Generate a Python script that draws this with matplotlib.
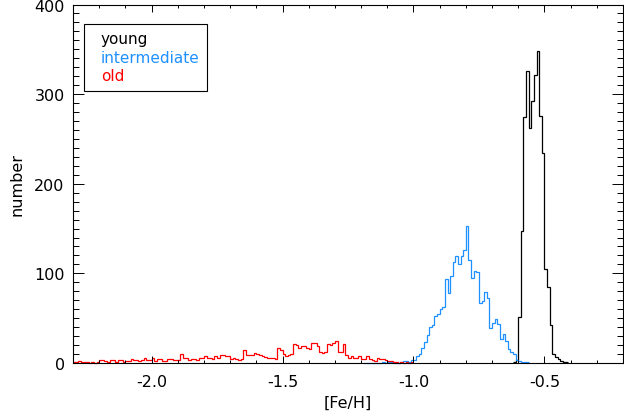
import numpy as np
import matplotlib
matplotlib.use('Agg')
import matplotlib.pyplot as plt
from matplotlib.ticker import MultipleLocator, FormatStrFormatter
from matplotlib.lines import Line2D

plt.rcParams['font.family'] = 'DejaVu Sans'
plt.rcParams['font.size'] = 11.5

bin_width = 0.01

# young population, bins start at [Fe/H] = -0.62
young_start = -0.62
young_counts = [1, 3, 51, 147, 275, 326, 262, 292, 321, 348, 276, 234,
                105, 85, 42, 10, 7, 4, 2, 1, 1]

# intermediate population, bins start at -1.19
inter_start = -1.19
inter_counts = [0, 0, 0, 0, 0, 0, 0, 1, 0, 1, 1, 0, 0, 0, 1, 2, 2, 1, 3,   # -1.19 .. -1.01
                3, 8, 10, 17, 23, 31, 40, 42, 52, 55, 60, 62,               # -1.00 .. -0.89
                94, 78, 97, 113, 119, 110, 119, 126, 153,                   # -0.88 .. -0.80
                115, 95, 103, 102, 67, 69, 79, 73, 39, 45, 49, 43,          # -0.79 .. -0.68
                27, 32, 25, 16, 12, 10, 3, 2, 1, 1, 1]                      # -0.67 .. -0.57

# old population, bins start at -2.30
old_start = -2.30
old_counts = [1, 1, 2, 1, 1, 1, 0, 1, 0, 1,
              3, 3, 2, 1, 3, 3, 1, 3, 3, 1,
              2, 2, 4, 3, 3, 2, 3, 6, 3, 3,
              6, 2, 4, 5, 2, 2, 5, 4, 3, 3,
              3, 10, 6, 6, 3, 4, 5, 3, 6, 6,
              8, 6, 6, 5, 8, 6, 9, 9, 8, 8,
              5, 6, 4, 3, 5, 14, 9, 9, 9, 11,
              10, 9, 8, 7, 6, 6, 6, 5, 17, 15,
              10, 8, 9, 10, 21, 20, 17, 19, 19, 17,
              16, 22, 22, 19, 12, 11, 12, 21, 20, 22,
              25, 12, 12, 21, 9, 6, 8, 6, 6, 8,
              5, 4, 8, 4, 3, 2, 6, 5, 5, 3,
              2, 2, 1, 1, 0, 1, 0, 1, 0, 1]

labels = ['young', 'intermediate', 'old']
colors = ['black', '#1e90ff', '#ff0000']


def edges(start, counts):
    return start + bin_width * np.arange(len(counts) + 1)


fig = plt.figure(figsize=(6.24, 4.14), dpi=100)
ax = fig.add_axes([73 / 624, 1 - 364 / 414, 550 / 624, 358.5 / 414])

series = [(young_start, young_counts), (inter_start, inter_counts), (old_start, old_counts)]
for (start, counts), c in zip(series, colors):
    ax.stairs(counts, edges(start, counts), baseline=None, color=c, lw=0.9, clip_on=False)

ax.set_xlim(-2.3, -0.2)
ax.set_ylim(0, 400)

ax.xaxis.set_major_locator(MultipleLocator(0.5))
ax.xaxis.set_minor_locator(MultipleLocator(0.1))
ax.xaxis.set_major_formatter(FormatStrFormatter('%.1f'))
ax.yaxis.set_major_locator(MultipleLocator(100))
ax.yaxis.set_minor_locator(MultipleLocator(10))

ax.tick_params(axis='both', which='both', direction='in', top=True, right=True, width=0.7)
ax.tick_params(axis='x', which='major', length=5, pad=8)
ax.tick_params(axis='x', which='minor', length=2.5)
ax.tick_params(axis='y', which='major', length=8, pad=6)
ax.tick_params(axis='y', which='minor', length=4)
for s in ax.spines.values():
    s.set_linewidth(0.8)

ax.set_xlabel('[Fe/H]', labelpad=4)
ax.set_ylabel('number', labelpad=7)

handles = [Line2D([], [], color=c) for c in colors]
leg = ax.legend(handles, labels, loc='upper left', bbox_to_anchor=(0.02, 0.947),
                handlelength=0, handletextpad=0.6, labelcolor=colors, fontsize=11,
                fancybox=False, edgecolor='black', framealpha=1,
                borderpad=0.5, labelspacing=0.22, borderaxespad=0)
leg.get_frame().set_linewidth(0.8)

fig.savefig('out.png', dpi=100)
